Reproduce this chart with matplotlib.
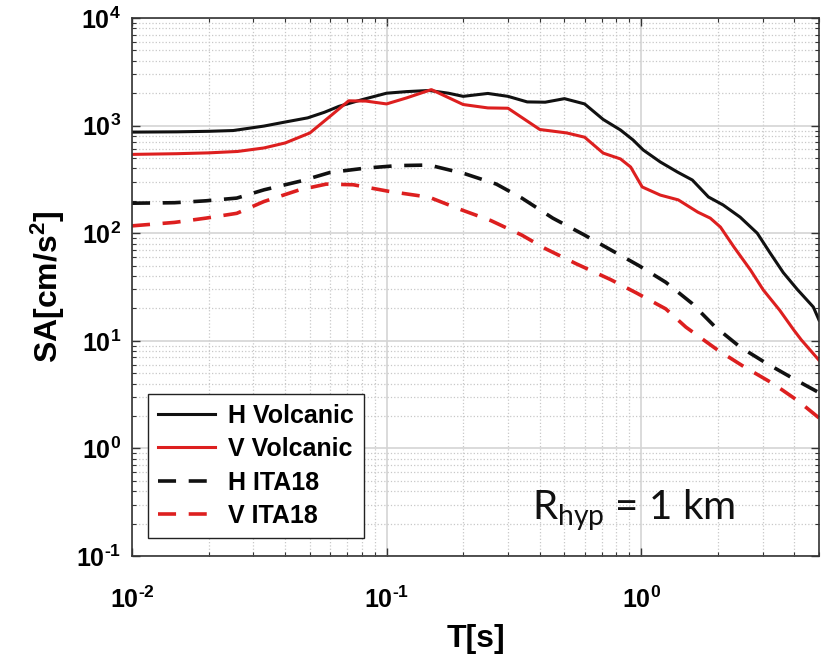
import numpy as np
import matplotlib
matplotlib.use('Agg')
import matplotlib.pyplot as plt
from matplotlib.ticker import FuncFormatter, NullFormatter, LogLocator

plt.rcParams['mathtext.fontset'] = 'custom'
plt.rcParams['mathtext.rm'] = 'Lato'
plt.rcParams['mathtext.it'] = 'Lato:italic'
plt.rcParams['mathtext.bf'] = 'Liberation Sans:bold'

# spectra (T in s, SA in cm/s^2)
t_h_volc = [0.01, 0.015, 0.02, 0.025, 0.033, 0.04, 0.049, 0.057, 0.065, 0.08, 0.1, 0.12, 0.147,
            0.175, 0.2, 0.25, 0.3, 0.357, 0.42, 0.5, 0.6, 0.71, 0.83, 0.93, 1.02, 1.19, 1.39,
            1.59, 1.84, 2.1, 2.45, 2.86, 3.22, 3.62, 4.11, 4.75, 5.0]
sa_h_volc = [870, 875, 885, 900, 990, 1080, 1180, 1330, 1510, 1740, 2000, 2070, 2120,
             2000, 1870, 1990, 1870, 1660, 1650, 1780, 1590, 1140, 910, 735, 593, 459, 370,
             312, 217, 183, 141, 100, 65, 43, 30, 20.6, 15.6]

t_v_volc = [0.01, 0.015, 0.02, 0.026, 0.033, 0.04, 0.05, 0.06, 0.071, 0.083, 0.1, 0.12, 0.15,
            0.2, 0.25, 0.3, 0.4, 0.51, 0.6, 0.71, 0.83, 0.91, 1.01, 1.19, 1.4, 1.67, 1.87,
            2.05, 2.32, 2.69, 3.02, 3.5, 3.98, 4.26, 5.0]
sa_v_volc = [540, 548, 558, 575, 620, 690, 855, 1220, 1700, 1690, 1590, 1810, 2160,
             1570, 1460, 1450, 920, 855, 780, 555, 490, 412, 269, 226, 204, 157, 138,
             114, 74, 45.5, 29.7, 19.3, 12.6, 10.2, 6.6]

t_h_ita = [0.01, 0.0147, 0.0195, 0.0258, 0.033, 0.0465, 0.06, 0.083, 0.111, 0.147, 0.203,
           0.27, 0.34, 0.45, 0.6, 0.76, 0.98, 1.25, 1.58, 1.94, 2.45, 3.1, 4.0, 5.0]
sa_h_ita = [190, 192, 200, 212, 253, 307, 367, 403, 425, 430, 357,
            286, 212, 138, 96, 70, 50, 35, 22.4, 13.7, 8.75, 6.2, 4.4, 3.3]

t_v_ita = [0.01, 0.0147, 0.0195, 0.0258, 0.033, 0.0455, 0.058, 0.074, 0.102, 0.147, 0.194,
           0.257, 0.34, 0.42, 0.556, 0.76, 0.96, 1.25, 1.5, 2.0, 2.55, 3.3, 4.15, 5.0]
sa_v_ita = [117, 126, 138, 153, 197, 253, 286, 282, 245, 216, 167,
            131, 96, 72, 52, 37, 27.8, 19.8, 13.4, 8.2, 5.7, 4.0, 2.75, 1.92]

black = '#111111'
red = '#dd1f1f'

fig = plt.figure(figsize=(8.33, 6.63), dpi=100)
ax = fig.add_axes([132/833, 1 - 556/663, 687/833, 538/663])

ax.plot(t_h_volc, sa_h_volc, color=black, lw=2.2, label='H Volcanic')
ax.plot(t_v_volc, sa_v_volc, color=red, lw=2.2, label='V Volcanic')
ax.plot(t_h_ita, sa_h_ita, color=black, lw=2.6, ls=(0, (5, 3.5)), label='H ITA18')
ax.plot(t_v_ita, sa_v_ita, color=red, lw=2.6, ls=(0, (5, 3.5)), label='V ITA18')

ax.set_xscale('log')
ax.set_yscale('log')
ax.set_xlim(0.01, 5)
ax.set_ylim(0.1, 1e4)

ax.xaxis.set_major_locator(LogLocator(base=10, numticks=10))
ax.yaxis.set_major_locator(LogLocator(base=10, numticks=10))
ax.xaxis.set_minor_locator(LogLocator(base=10, subs=np.arange(2, 10), numticks=20))
ax.yaxis.set_minor_locator(LogLocator(base=10, subs=np.arange(2, 10), numticks=20))


def decade(v, pos):
    e = int(round(np.log10(v)))
    s = str(e).replace('-', '\u2010')
    return r'$\mathbf{10^{%s}}$' % s


ax.xaxis.set_major_formatter(FuncFormatter(decade))
ax.yaxis.set_major_formatter(FuncFormatter(decade))
ax.xaxis.set_minor_formatter(NullFormatter())
ax.yaxis.set_minor_formatter(NullFormatter())

ax.grid(which='major', color='#d4d4d4', lw=1.2, ls='-')
ax.grid(which='minor', color='#c8c8c8', lw=0.9, ls=':')
ax.set_axisbelow(True)

ax.tick_params(which='both', direction='in', top=True, right=True, color='#333333')
ax.tick_params(which='major', length=6, width=1)
ax.tick_params(which='minor', length=3, width=0.8)
ax.tick_params(axis='x', which='major', pad=22, labelsize=18)
ax.tick_params(axis='y', which='major', pad=8, labelsize=18)
for s in ax.spines.values():
    s.set_color('#333333')
    s.set_linewidth(1.2)

ax.set_xlabel('T[s]', fontsize=23, fontweight='bold', family='Liberation Sans', labelpad=8)
ax.set_ylabel(r'SA[cm/s$^{\mathbf{2}}$]', fontsize=23, fontweight='bold',
              family='Liberation Sans', labelpad=6)

leg = ax.legend(loc='lower left', bbox_to_anchor=(0.023, 0.033), borderaxespad=0,
                prop={'family': 'Liberation Sans', 'weight': 'bold', 'size': 18},
                handlelength=2.3, handletextpad=0.5, labelspacing=0.38,
                fancybox=False, framealpha=1, edgecolor='#222222')
leg.get_frame().set_linewidth(1.0)

ax.text(0.582, 0.067, r'R$_{\mathrm{hyp}}$ = 1 km', transform=ax.transAxes,
        fontsize=29, family='Lato', va='baseline', ha='left', color='#111111')

fig.savefig('out.png', dpi=100)
